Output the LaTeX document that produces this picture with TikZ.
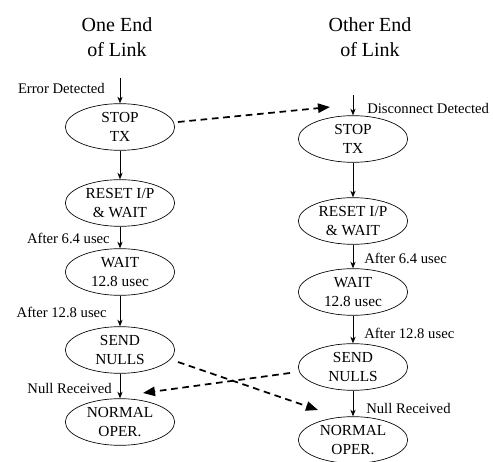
\documentclass[tikz,border=0pt]{standalone}
\usepackage{fontspec}
\setmainfont{Liberation Serif}
\usetikzlibrary{shapes.geometric,arrows.meta,calc}
\begin{document}
\begin{tikzpicture}[x=0.75pt,y=0.75pt,
  state/.style={ellipse,draw,line width=0.5pt,inner sep=0pt,
    minimum width=82pt,minimum height=35pt,align=center,
    font=\fontsize{11.5}{14.5}\selectfont},
  lbl/.style={font=\fontsize{11}{13}\selectfont,inner sep=0pt},
  head/.style={align=center,font=\fontsize{15}{19}\selectfont},
  flow/.style={line width=0.5pt,-{Stealth[length=5pt,width=4pt]}},
  signal/.style={line width=1.3pt,dash pattern=on 5pt off 3.5pt,
    -{Stealth[length=9pt,width=7pt,inset=0pt]}}]
\useasboundingbox (0,0) rectangle (493,461);

% column headings
\node[head] (h1) at (117,424) {One End\\of Link};
\node[head] (h2) at (370,424) {Other End\\of Link};

% one end of the link
\node[state] (lstop)  at (120,334) {STOP\\TX};
\node[state] (lreset) at (120,258) {RESET I/P\\\& WAIT};
\node[state] (lwait)  at (120,189) {WAIT\\12.8 usec};
\node[state] (lsend)  at (120,111) {SEND\\NULLS};
\node[state] (lnorm)  at (120,39)  {NORMAL\\OPER.};
\coordinate (lin) at (120,383);

% other end of the link
\node[state] (rstop)  at (353,322) {STOP\\TX};
\node[state] (rreset) at (353,240) {RESET I/P\\\& WAIT};
\node[state] (rwait)  at (353,169) {WAIT\\12.8 usec};
\node[state] (rsend)  at (353,94)  {SEND\\NULLS};
\node[state] (rnorm)  at (353,21)  {NORMAL\\OPER.};
\coordinate (rin) at (353,366);

% state transitions
\draw[flow] (lin) -- (lstop);
\draw[flow] (lstop) -- (lreset);
\draw[flow] (lreset) -- (lwait);
\draw[flow] (lwait) -- (lsend);
\draw[flow] (lsend) -- (lnorm);
\draw[flow] (rin) -- (rstop);
\draw[flow] (rstop) -- (rreset);
\draw[flow] (rreset) -- (rwait);
\draw[flow] (rwait) -- (rsend);
\draw[flow] (rsend) -- (rnorm);

% transition labels
\node[lbl,anchor=east] (e1) at (105,373) {Error Detected};
\node[lbl,anchor=east] (e2) at (110,223) {After 6.4 usec};
\node[lbl,anchor=east] (e3) at (107,149) {After 12.8 usec};
\node[lbl,anchor=east] (e4) at (112,73)  {Null Received};
\node[lbl,anchor=west] (o1) at (367,353) {Disconnect Detected};
\node[lbl,anchor=west] (o2) at (364,203) {After 6.4 usec};
\node[lbl,anchor=west] (o3) at (364,128) {After 12.8 usec};
\node[lbl,anchor=west] (o4) at (366,53)  {Null Received};

% signals across the link
\coordinate (s1a) at ($(lstop.east)+(3,5)$);
\coordinate (s1b) at (330,354);
\coordinate (s2a) at ($(lsend.east)+(3,-12)$);
\coordinate (s2b) at (318,51);
\coordinate (s3a) at ($(rsend.west)+(-8,-6)$);
\coordinate (s3b) at (143,68);
\draw[signal] (s1a) -- (s1b);
\draw[signal] (s2a) -- (s2b);
\draw[signal] (s3a) -- (s3b);
\end{tikzpicture}
\end{document}
